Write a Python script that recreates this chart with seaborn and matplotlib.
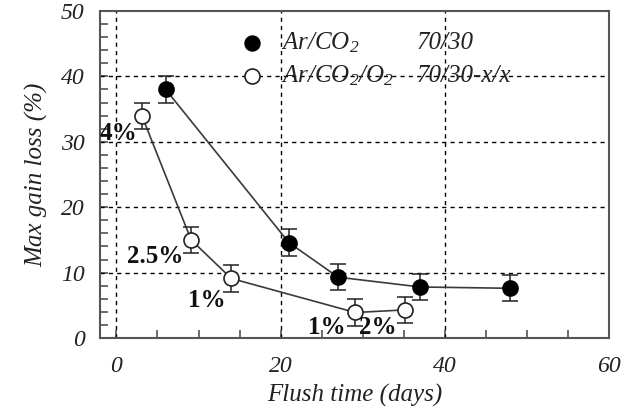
import matplotlib
matplotlib.use("Agg")
import matplotlib.pyplot as plt
import seaborn as sns
import numpy as np
import pandas as pd

# Data
co2_days = [6.0, 21.0, 27.0, 37.0, 48.0]
co2_loss = [38.0, 14.6, 9.3, 7.8, 7.6]
co2_err = [2.0, 2.0, 2.0, 2.0, 2.0]

o2_days = [3.1, 9.1, 14.0, 29.1, 35.2]
o2_loss = [34.0, 15.0, 9.1, 3.9, 4.3]
o2_err = [2.0, 2.0, 2.0, 2.0, 2.0]
o2_labels = ["4%", "2.5%", "1%", "1%", "2%"]

xticks = [0, 20, 40, 60]
yticks = [0, 10, 20, 30, 40, 50]

sns.set_style("ticks")
plt.rcParams['font.family'] = ['Liberation Serif', 'DejaVu Serif']
plt.rcParams['font.style'] = 'italic'
plt.rcParams['mathtext.fontset'] = 'custom'
plt.rcParams['mathtext.rm'] = 'Liberation Serif:italic'
plt.rcParams['mathtext.it'] = 'Liberation Serif:italic'

fig = plt.figure(figsize=(6.23, 4.09), dpi=100)
ax = fig.add_axes([0.1605, 0.1736, 0.817, 0.7995])

df1 = pd.DataFrame({"x": co2_days, "y": co2_loss})
df2 = pd.DataFrame({"x": o2_days, "y": o2_loss})

lc = '#3a3a3a'
sns.lineplot(data=df1, x="x", y="y", ax=ax, color=lc, lw=1.2, zorder=3)
sns.lineplot(data=df2, x="x", y="y", ax=ax, color=lc, lw=1.2, zorder=3)

ax.errorbar(co2_days, co2_loss, yerr=co2_err, fmt='none', ecolor='#222222',
            elinewidth=1.1, capsize=5.5, capthick=1.1, zorder=4)
ax.errorbar(o2_days, o2_loss, yerr=o2_err, fmt='none', ecolor='#222222',
            elinewidth=1.1, capsize=5.5, capthick=1.1, zorder=4)

ms = 10.8
ax.plot(co2_days, co2_loss, 'o', ms=ms, mfc='black', mec='black', mew=1.2, zorder=5)
ax.plot(o2_days, o2_loss, 'o', ms=ms, mfc='white', mec='#222222', mew=1.2, zorder=5)

ax.set_xlim(-2, 60)
ax.set_ylim(0, 50)
ax.set_xticks(xticks)
ax.set_yticks(yticks)
ax.set_xticks(np.arange(0, 61, 5), minor=True)
ax.set_yticks(np.arange(0, 51, 2), minor=True)

for v in [0, 20, 40]:
    ax.axvline(v, color='black', lw=1.0, ls=(0, (3, 3)), zorder=1)
for v in [10, 20, 30, 40]:
    ax.axhline(v, color='black', lw=1.0, ls=(0, (3, 3)), zorder=1)

ax.tick_params(axis='both', which='both', direction='in', length=6, width=1.1,
               color='#444444', top=False, right=False)
ax.tick_params(axis='x', which='major', pad=13, labelsize=17, labelcolor='#222222')
ax.tick_params(axis='y', which='major', pad=11, labelsize=17, labelcolor='#222222')

for s in ax.spines.values():
    s.set_color('#555555')
    s.set_linewidth(1.5)

ax.set_xlabel("Flush time (days)", fontsize=18, labelpad=5, color='#222222')
ax.set_ylabel("Max gain loss (%)", fontsize=18, labelpad=9, color='#222222')

# Legend
ax.plot([0.299], [0.902], 'o', ms=ms, mfc='black', mec='black', transform=ax.transAxes, clip_on=False)
ax.plot([0.299], [0.801], 'o', ms=ms, mfc='white', mec='#222222', mew=1.2, transform=ax.transAxes, clip_on=False)
ax.text(0.356, 0.902, "Ar/CO$_2$", transform=ax.transAxes, fontsize=18, va='center', color='#222222')
ax.text(0.356, 0.801, "Ar/CO$_2$/O$_2$", transform=ax.transAxes, fontsize=18, va='center', color='#222222')
ax.text(0.622, 0.902, "70/30", transform=ax.transAxes, fontsize=18, va='center', color='#222222')
ax.text(0.622, 0.801, "70/30-x/x", transform=ax.transAxes, fontsize=18, va='center', color='#222222')

# Annotations
ann_pos = [(0.25, 31.2), (4.7, 12.4), (11.0, 5.8), (25.6, 1.6), (31.9, 1.6)]
for lab, (px, py) in zip(o2_labels, ann_pos):
    ax.text(px, py, lab, fontsize=18, fontweight='bold', fontstyle='normal',
            ha='center', va='center', color='#111111', zorder=6)

fig.savefig("out.png", dpi=100)
